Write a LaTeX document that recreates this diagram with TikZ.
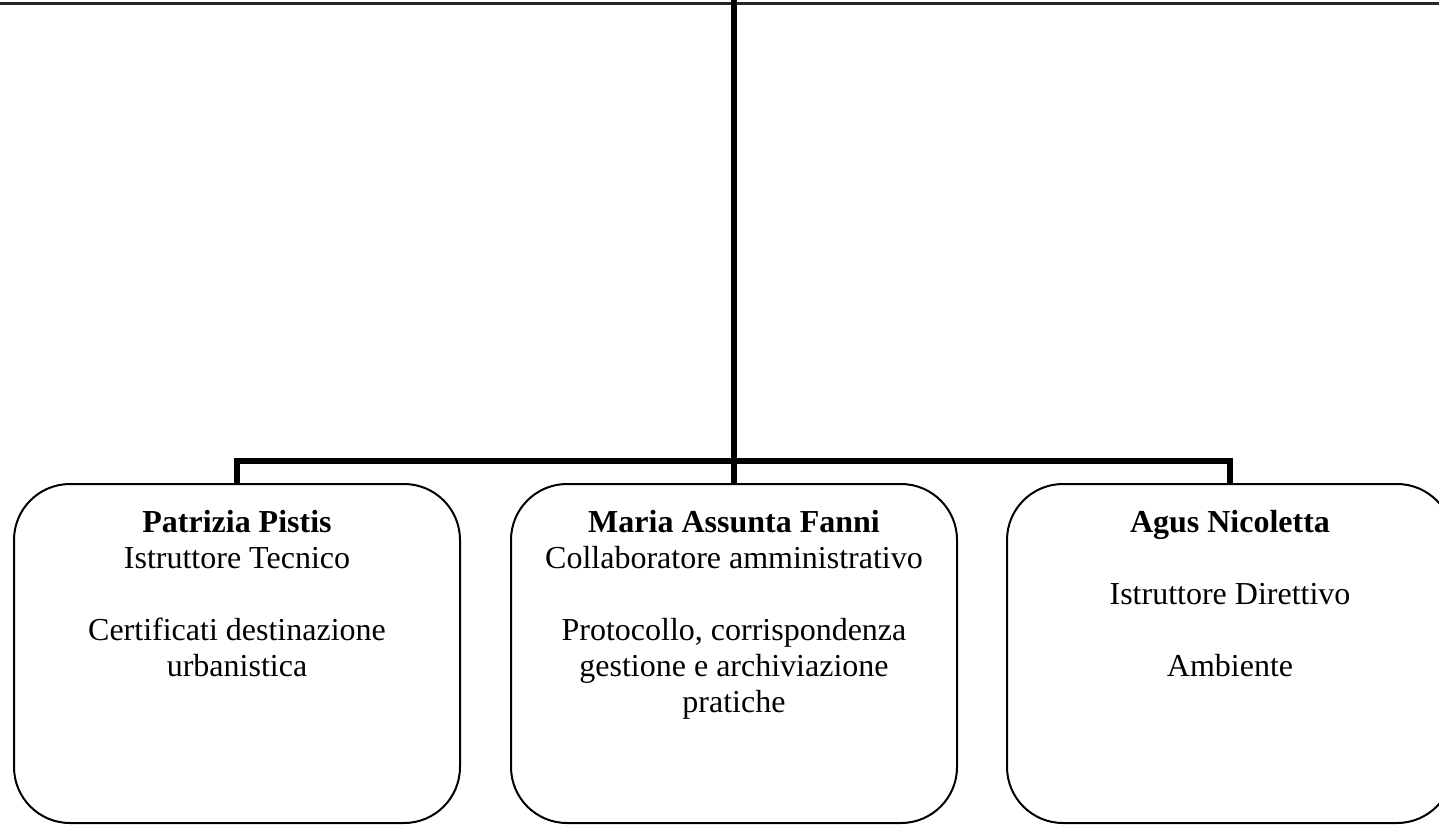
\documentclass[tikz,border=0pt]{standalone}
\usepackage{fontspec}
\setmainfont{Liberation Serif}
\begin{document}
\begin{tikzpicture}[x=0.5pt,y=-0.5pt,
  box/.style={draw, line width=1pt, rounded corners=28pt, minimum width=223pt, minimum height=169.5pt, inner sep=0pt},
  txt/.style={anchor=north, align=center, inner sep=0pt, font=\fontsize{16}{18}\selectfont},
  conn/.style={line width=3pt, line join=miter}]
\useasboundingbox (0,0) rectangle (1439,825);
\clip (0,0) rectangle (1439,825);
\coordinate (tl) at (0,3.5);
\coordinate (tr) at (1439,3.5);
\draw[line width=1.3pt, black!85] (tl) -- (tr);
\node[box] (b1) at (237,653.5) {};
\node[box] (b2) at (734,653.5) {};
\node[box] (b3) at (1230,653.5) {};
\node[txt] (t1) at (237,510) {\textbf{Patrizia Pistis}\\Istruttore Tecnico\\[18pt]Certificati destinazione\\urbanistica};
\node[txt] (t2) at (734,510) {\textbf{Maria Assunta Fanni}\\Collaboratore amministrativo\\[18pt]Protocollo, corrispondenza\\gestione e archiviazione\\pratiche};
\node[txt] (t3) at (1230,510) {\textbf{Agus Nicoletta}\\[18pt]Istruttore Direttivo\\[18pt]Ambiente};
\coordinate (top) at (734,0);
\coordinate (hub) at (734,461);
\draw[conn] (top) -- (b2.north);
\draw[conn] (b1.north) |- (hub) -| (b3.north);
\end{tikzpicture}
\end{document}
